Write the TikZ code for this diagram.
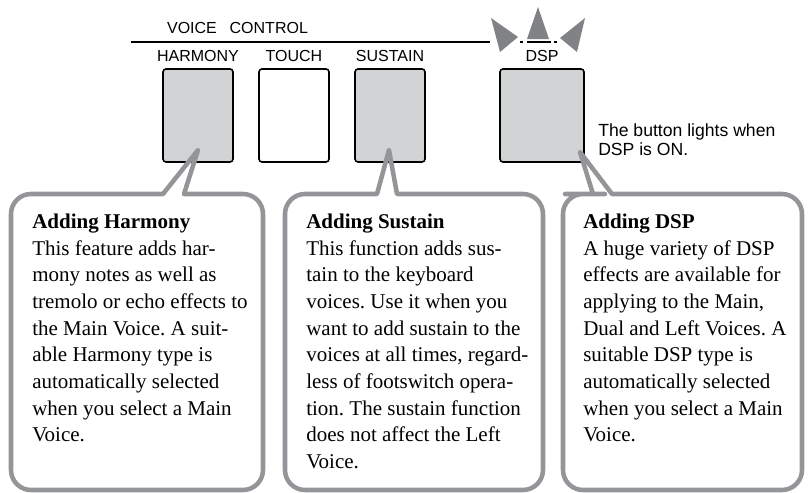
\documentclass[tikz,border=0pt]{standalone}
\usepackage{fontspec}
\setmainfont{Liberation Serif}
\setsansfont{Liberation Sans}
\usepackage{tikz}
\usetikzlibrary{positioning}
\frenchspacing
\definecolor{calloutgray}{RGB}{148,149,152}
\definecolor{buttongray}{RGB}{209,211,212}
\definecolor{lampgray}{RGB}{128,130,133}
\tikzset{%
  voice button/.style={%
    draw=black,
    line width=1.2pt,
    fill=buttongray,
    rounded corners=2.25pt,
    minimum width=52.5pt,
    minimum height=69.75pt,
    inner sep=0pt
  }
}
\tikzset{%
  panel label/.style={%
    font=\sffamily\fontsize{12pt}{14pt}\selectfont,
    inner sep=0pt
  }
}
\tikzset{%
  lamp note/.style={%
    font=\sffamily\fontsize{13.2pt}{14pt}\selectfont,
    align=left,
    inner sep=0pt,
    anchor=north west
  }
}
\tikzset{%
  callout/.style={%
    draw=calloutgray,
    line width=3.4pt,
    line join=round
  }
}
\tikzset{%
  callout text/.style={%
    font=\fontsize{15.75pt}{20pt}\selectfont,
    align=left,
    inner sep=0pt,
    anchor=north west
  }
}

\begin{document}
\begin{tikzpicture}[x=0.75pt, y=-0.75pt]
  \useasboundingbox (0,0) rectangle (808,493);
  % panel
  \node[panel label] (voicecontrol) at (237.5,28) {VOICE\hspace{0.8em}CONTROL};
  \coordinate (lineL) at (131,42);
  \coordinate (lineR) at (490,42);
  \draw[line width=1.2pt] (lineL) -- (lineR);
  \node[voice button] (harmony) at (198,115.5) {};
  \node[voice button, fill=white] (touch) at (294,115.5) {};
  \node[voice button] (sustain) at (390,115.5) {};
  \node[voice button, minimum width=63pt] (dsp) at (542,115.5) {};
  \node[panel label, above=4.9pt of harmony] (harmonylabel) {HARMONY};
  \node[panel label, above=4.9pt of touch] (touchlabel) {TOUCH};
  \node[panel label, above=4.9pt of sustain] (sustainlabel) {SUSTAIN};
  \node[panel label, above=4.9pt of dsp] (dsplabel) {DSP};
  % lamp
  \fill[lampgray] (491,18) -- (518,37) -- (500,52) -- cycle;
  \fill[lampgray] (538,7) -- (549,39) -- (527,39) -- cycle;
  \fill[lampgray] (585,18) -- (577,52) -- (560,38) -- cycle;
  \coordinate (dashL) at (520,42);
  \coordinate (dashR) at (557,42);
  \draw[line width=1pt, dash pattern=on 2.25pt off 3pt on 18pt off 2.25pt on 2.25pt] (dashL) -- (dashR);
  \node[lamp note] (note) at (598,123.4) {The button lights when\\DSP is ON.};
  % callouts
  \draw[callout] (11,340) [rounded corners=15pt] -- (11,194) -- (140,194)
    [sharp corners] -- (163,194) -- (198,150) -- (184,194) -- (220,194)
    [rounded corners=15pt] -- (263,194) -- (263,490) -- (11,490) -- cycle;
  \draw[callout] (285,340) [rounded corners=15pt] -- (285,194) -- (350,194)
    [sharp corners] -- (377,194) -- (389,150) -- (397,194) -- (420,194)
    [rounded corners=15pt] -- (543,194) -- (543,490) -- (285,490) -- cycle;
  \draw[callout] (563,340) [rounded corners=15pt] -- (563,194) -- (585,194)
    [sharp corners] -- (593,194) -- (580,152) -- (612,194) -- (640,194)
    [rounded corners=15pt] -- (802,194) -- (802,490) -- (563,490) -- cycle;
  \node[callout text] (harmonytext) at (32,213.8) {\textbf{Adding Harmony}\\
    This feature adds har-\\
    mony notes as well as\\
    tremolo or echo effects to\\
    the Main Voice. A suit-\\
    able Harmony type is\\
    automatically selected\\
    when you select a Main\\
    Voice.};
  \node[callout text] (sustaintext) at (306,213.8) {\textbf{Adding Sustain}\\
    This function adds sus-\\
    tain to the keyboard\\
    voices. Use it when you\\
    want to add sustain to the\\
    voices at all times, regard-\\
    less of footswitch opera-\\
    tion. The sustain function\\
    does not affect the Left\\
    Voice.};
  \node[callout text] (dsptext) at (583,213.8) {\textbf{Adding DSP}\\
    A huge variety of DSP\\
    effects are available for\\
    applying to the Main,\\
    Dual and Left Voices. A\\
    suitable DSP type is\\
    automatically selected\\
    when you select a Main\\
    Voice.};
\end{tikzpicture}
\end{document}
